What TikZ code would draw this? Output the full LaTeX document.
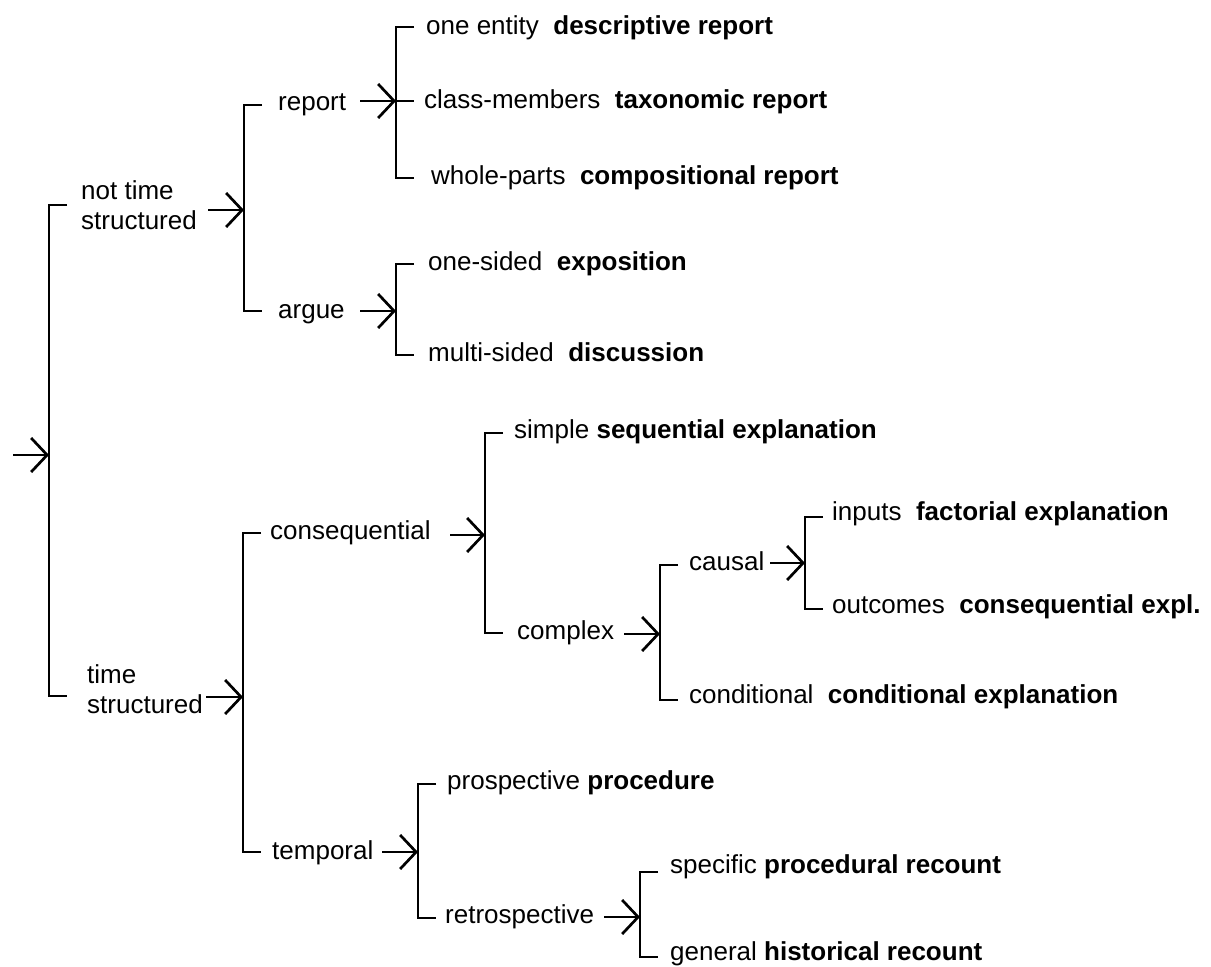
\documentclass[tikz,border=0pt]{standalone}
\usepackage{fontspec}
\setmainfont{Liberation Sans}
\usetikzlibrary{arrows.meta}
\tikzset{
  lbl/.style={anchor=base west, yshift=-7.5pt, inner sep=0pt, font=\fontsize{26}{30}\selectfont},
  two/.style={anchor=west, inner sep=0pt, align=left, font=\fontsize{26}{30}\selectfont},
  ln/.style={line width=2.7pt, line join=miter},
  arr/.style={line width=2.7pt, -{Straight Barb[length=16pt,width=34pt,line width=2.7pt]}}
}
\newcommand{\brk}[4]{% x, top, bottom, name
  \coordinate (#4t) at (#1,#2);
  \coordinate (#4b) at (#1,#3);
  \draw[ln] ([xshift=18pt]#4t) -- (#4t) -- (#4b) -- ([xshift=18pt]#4b);
}
\begin{document}
\begin{tikzpicture}[x=1pt,y=-1pt]
\useasboundingbox (0,0) rectangle (1211,967);

% ---------- root ----------
\coordinate (in0) at (13,455);
\coordinate (v0m) at (49,455);
\brk{49}{205}{696}{v0}
\draw[arr] (in0) -- (v0m);

% ---------- not time structured ----------
\node[two] (nts) at (81,205) {not time\\structured};
\coordinate (nts-a) at (208,210);
\coordinate (v1m) at (244,210);
\draw[arr] (nts-a) -- (v1m);
\brk{244}{105}{311}{v1}

\node[lbl] (report) at (278,103) {report};
\coordinate (report-a) at (360,101);
\coordinate (v2m) at (396,101);
\draw[arr] (report-a) -- (v2m);
\brk{396}{27}{178}{v2}
\draw[ln] (v2m) -- ([xshift=18pt]v2m);
\node[lbl] (desc) at (426,27) {one entity\ \ \textbf{descriptive report}};
\node[lbl] (taxo) at (424,101) {class-members\ \ \textbf{taxonomic report}};
\node[lbl] (comp) at (431,177) {whole-parts\ \ \textbf{compositional report}};

\node[lbl] (argue) at (278,311) {argue};
\coordinate (argue-a) at (360,311);
\coordinate (v3m) at (396,311);
\draw[arr] (argue-a) -- (v3m);
\brk{396}{264}{355}{v3}
\node[lbl] (expo) at (428,263) {one-sided\ \ \textbf{exposition}};
\node[lbl] (disc) at (428,354) {multi-sided\ \ \textbf{discussion}};

% ---------- time structured ----------
\node[two] (ts) at (87,689) {time\\structured};
\coordinate (ts-a) at (206,697);
\coordinate (v4m) at (243,697);
\draw[arr] (ts-a) -- (v4m);
\brk{243}{533}{852}{v4}

\node[lbl] (conseq) at (270,532) {consequential};
\coordinate (conseq-a) at (450,535);
\coordinate (v5m) at (485,535);
\draw[arr] (conseq-a) -- (v5m);
\brk{485}{433}{633}{v5}
\node[lbl] (seq) at (514,431) {simple \textbf{sequential explanation}};

\node[lbl] (complex) at (517,632) {complex};
\coordinate (complex-a) at (624,634);
\coordinate (v6m) at (660,634);
\draw[arr] (complex-a) -- (v6m);
\brk{660}{565}{700}{v6}

\node[lbl] (causal) at (689,563) {causal};
\coordinate (causal-a) at (770,563);
\coordinate (v7m) at (805,563);
\draw[arr] (causal-a) -- (v7m);
\brk{805}{517}{609}{v7}
\node[lbl] (fact) at (832,513) {inputs\ \ \textbf{factorial explanation}};
\node[lbl] (cexp) at (832,606) {outcomes\ \ \textbf{consequential expl.}};

\node[lbl] (cond) at (689,696) {conditional\ \ \textbf{conditional explanation}};

\node[lbl] (temporal) at (272,852) {temporal};
\coordinate (temporal-a) at (382,852);
\coordinate (v8m) at (418,852);
\draw[arr] (temporal-a) -- (v8m);
\brk{418}{784}{918}{v8}
\node[lbl] (proc) at (447,782) {prospective \textbf{procedure}};

\node[lbl] (retro) at (445,916) {retrospective};
\coordinate (retro-a) at (604,917);
\coordinate (v9m) at (640,917);
\draw[arr] (retro-a) -- (v9m);
\brk{640}{872}{957}{v9}
\node[lbl] (precount) at (670,866) {specific \textbf{procedural recount}};
\node[lbl] (hrecount) at (670,953) {general \textbf{historical recount}};
\end{tikzpicture}
\end{document}
